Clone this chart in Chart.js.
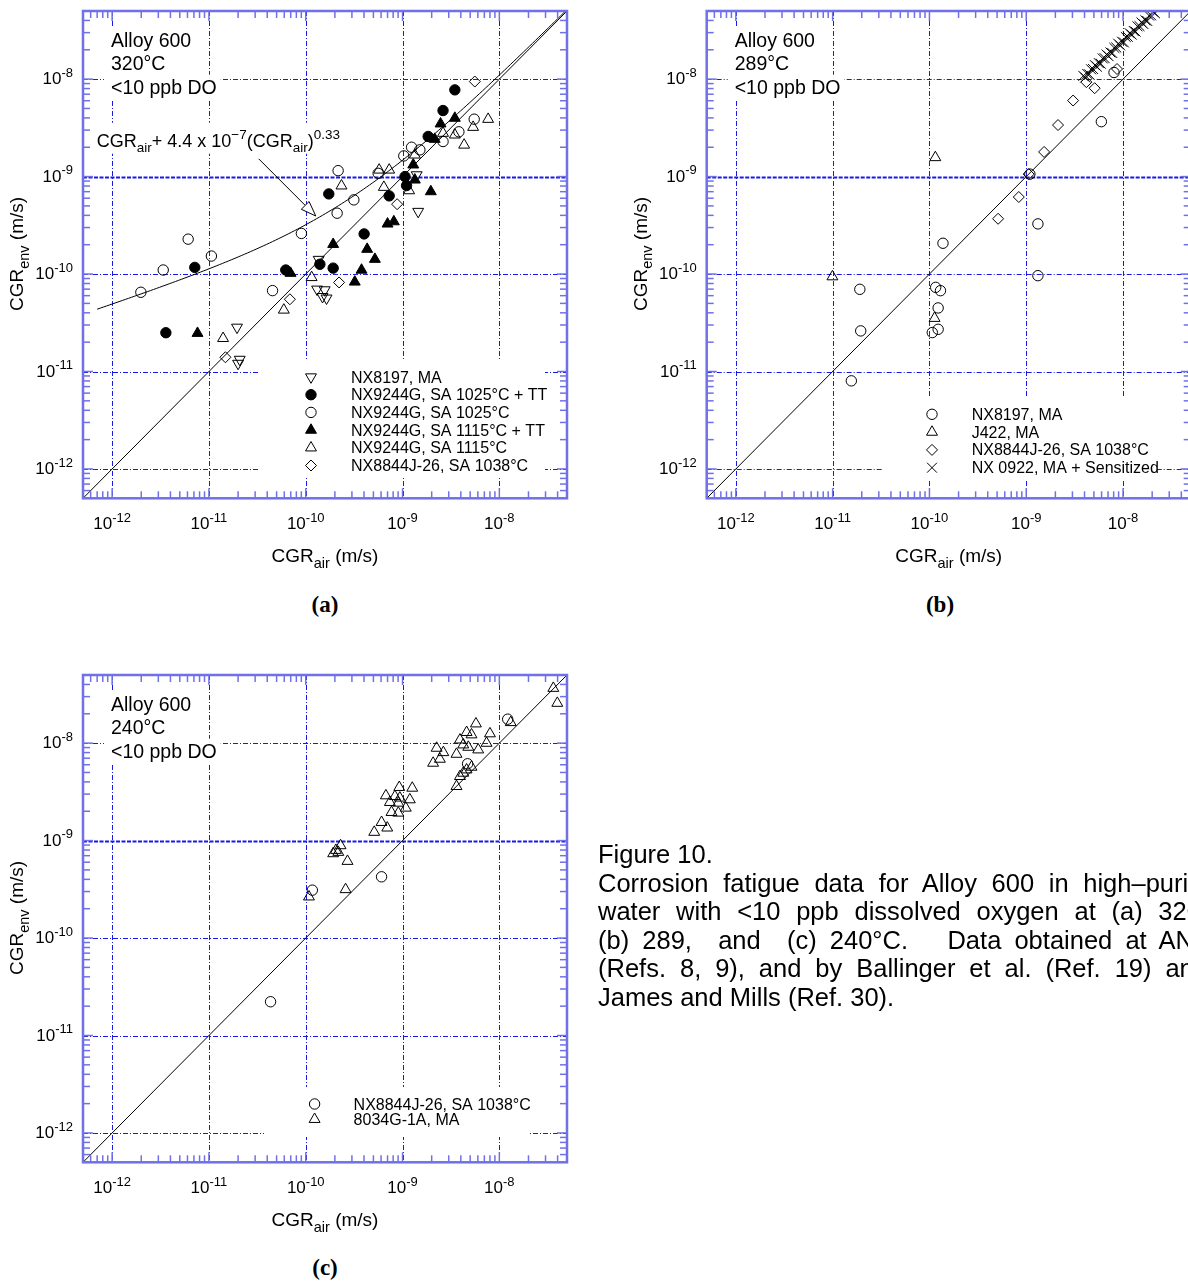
<!DOCTYPE html>
<html>
<head>
<meta charset="utf-8">
<title>Figure 10 - Alloy 600 corrosion fatigue</title>
<script src="https://cdn.jsdelivr.net/npm/chart.js@4.4.0/dist/chart.umd.min.js"></script>
<style>
  html, body { margin: 0; padding: 0; width: 1188px; height: 1281px; overflow: hidden; background: #fff; }
  canvas { position: absolute; }
  #panelA { left: 0; top: 0; }
  #panelB { left: 620px; top: 0; }
  #panelC { left: 0; top: 664px; }
  .tag { position: absolute; transform: translate(-50%, -50%); font: bold 23px "Liberation Serif", "Times New Roman", serif; color: #000; }
  .caption { position: absolute; left: 598px; top: 840px; font: 25.5px "Liberation Sans", Arial, sans-serif; line-height: 28.6px; color: #000; }
  .caption div { width: 610px; white-space: nowrap; text-align: justify; text-align-last: justify; }
  .caption div.plain { text-align: left; text-align-last: left; }
</style>
</head>
<body>
<canvas id="panelA" width="600" height="580"></canvas>
<canvas id="panelB" width="600" height="580"></canvas>
<canvas id="panelC" width="600" height="580"></canvas>

<div class="tag" style="left:325px; top:605px;">(a)</div>
<div class="tag" style="left:940px; top:605px;">(b)</div>
<div class="tag" style="left:325px; top:1268px;">(c)</div>

<div class="caption">
  <div class="plain">Figure 10.</div>
  <div>Corrosion fatigue data for Alloy 600 in high–purity</div>
  <div>water with &lt;10 ppb dissolved oxygen at (a) 320,</div>
  <div>(b) 289,&nbsp; and&nbsp; (c) 240°C.&nbsp;&nbsp; Data obtained at ANL</div>
  <div>(Refs. 8, 9), and by Ballinger et al. (Ref. 19) and</div>
  <div class="plain">James and Mills (Ref. 30).</div>
</div>

<script>
// ------------------------------------------------------------
// Axes: both log scales, same range on every panel
// ------------------------------------------------------------
const AXIS_MIN = 5e-13;
const AXIS_MAX = 5e-8;
const DECADES = [1e-12, 1e-11, 1e-10, 1e-9, 1e-8];
const DECADE_EXPONENTS = ['-12', '-11', '-10', '-9', '-8'];
const MINOR_STEPS = [2, 3, 4, 5, 6, 7, 8, 9];

// y = x reference line
const diagonal = [[AXIS_MIN, AXIS_MIN], [AXIS_MAX, AXIS_MAX]];

// ------------------------------------------------------------
// (a) 320°C  -- [CGR_air, CGR_env] in m/s
// ------------------------------------------------------------
const a320_nx8197 = [
  [1.40e-9, 1.04e-9], [1.45e-9, 4.38e-10], [1.36e-10, 1.41e-10], [1.31e-10, 6.98e-11],
  [1.57e-10, 6.87e-11], [1.64e-10, 5.65e-11], [1.49e-10, 5.86e-11], [1.95e-11, 2.84e-11],
  [2.08e-11, 1.33e-11], [2.00e-11, 1.21e-11]
];
const a320_nx9244_1025tt = [
  [3.47e-9, 7.76e-9], [2.62e-9, 4.76e-9], [1.84e-9, 2.58e-9], [1.06e-9, 1.00e-9],
  [1.10e-9, 8.09e-10], [7.28e-10, 6.34e-10], [1.73e-10, 6.64e-10], [4.01e-10, 2.58e-10],
  [1.40e-10, 1.26e-10], [1.92e-10, 1.15e-10], [6.22e-11, 1.10e-10], [3.59e-12, 2.50e-11],
  [7.14e-12, 1.17e-10]
];
const a320_nx9244_1025 = [
  [5.50e-9, 3.88e-9], [3.82e-9, 2.88e-9], [2.62e-9, 2.29e-9], [1.24e-9, 2.00e-9],
  [1.03e-9, 1.63e-9], [1.51e-9, 1.88e-9], [5.60e-10, 1.08e-9], [2.16e-10, 1.15e-9],
  [3.14e-10, 5.77e-10], [2.11e-10, 4.21e-10], [9.02e-11, 2.61e-10], [4.54e-11, 6.76e-11],
  [6.10e-12, 2.28e-10], [1.06e-11, 1.53e-10], [3.37e-12, 1.10e-10], [1.98e-12, 6.50e-11]
];
const a320_nx9244_1115tt = [
  [2.47e-9, 3.48e-9], [3.47e-9, 3.98e-9], [2.15e-9, 2.42e-9], [1.29e-9, 1.32e-9],
  [1.34e-9, 9.25e-10], [1.96e-9, 7.02e-10], [7.00e-10, 3.27e-10], [8.13e-10, 3.45e-10],
  [1.92e-10, 2.02e-10], [4.31e-10, 1.80e-10], [5.18e-10, 1.42e-10], [3.77e-10, 1.10e-10],
  [3.21e-10, 8.30e-11], [6.97e-11, 1.02e-10], [7.62e-12, 2.47e-11]
];
const a320_nx9244_1115 = [
  [7.66e-9, 3.88e-9], [5.36e-9, 3.21e-9], [4.33e-9, 2.11e-9], [3.47e-9, 2.68e-9],
  [2.62e-9, 2.79e-9], [1.34e-9, 1.67e-9], [1.17e-9, 7.18e-10], [5.73e-10, 1.17e-9],
  [7.28e-10, 1.17e-9], [6.41e-10, 7.78e-10], [2.34e-10, 8.04e-10], [1.15e-10, 9.23e-11],
  [5.94e-11, 4.28e-11], [1.40e-11, 2.19e-11]
];
const a320_nx8844 = [
  [5.58e-9, 9.44e-9], [8.79e-10, 5.21e-10], [2.21e-10, 8.20e-11], [6.86e-11, 5.51e-11],
  [1.48e-11, 1.40e-11]
];
const legend320 = [
  'NX8197, MA', 'NX9244G, SA 1025°C + TT', 'NX9244G, SA 1025°C',
  'NX9244G, SA 1115°C + TT', 'NX9244G, SA 1115°C', 'NX8844J-26, SA 1038°C'
];
const info320 = ['Alloy 600', '320°C', '<10 ppb DO'];

// CGR_env = CGR_air + 4.4e-7 (CGR_air)^0.33, drawn from this air rate upward
const CURVE_COEF = 4.4e-7;
const CURVE_EXP = 0.33;
const CURVE_FROM = 7e-13;
// pointer from the equation text to the curve
const arrow320 = { from: [3.27e-11, 1.52e-9], to: [1.27e-10, 3.94e-10] };

// ------------------------------------------------------------
// (b) 289°C
// ------------------------------------------------------------
const b289_nx8197 = [
  [1.38e-10, 2.07e-10], [1.09e-9, 1.06e-9], [1.32e-9, 3.27e-10], [5.97e-9, 3.66e-9],
  [8.07e-9, 1.17e-8], [1.32e-9, 9.62e-11], [1.91e-11, 6.97e-11], [1.95e-11, 2.61e-11],
  [1.56e-11, 8.02e-12], [1.16e-10, 7.30e-11], [1.30e-10, 6.75e-11], [1.23e-10, 4.49e-11],
  [1.23e-10, 2.71e-11], [1.07e-10, 2.51e-11]
];
const b289_j422 = [[1.15e-10, 1.57e-9], [9.95e-12, 9.40e-11], [1.13e-10, 3.52e-11]];
const b289_nx8844 = [
  [5.12e-10, 3.69e-10], [8.38e-10, 6.17e-10], [1.06e-9, 1.06e-9], [1.53e-9, 1.79e-9],
  [2.13e-9, 3.38e-9], [3.05e-9, 6.03e-9], [5.09e-9, 8.07e-9], [4.18e-9, 9.31e-9],
  [8.67e-9, 1.27e-8]
];
const b289_nx0922 = [
  [3.89e-9, 1.08e-8], [4.07e-9, 1.04e-8], [4.27e-9, 1.13e-8], [4.47e-9, 1.12e-8],
  [4.68e-9, 1.26e-8], [4.90e-9, 1.27e-8], [5.13e-9, 1.39e-8], [5.37e-9, 1.34e-8],
  [5.62e-9, 1.46e-8], [5.89e-9, 1.44e-8], [6.17e-9, 1.63e-8], [6.46e-9, 1.64e-8],
  [6.76e-9, 1.79e-8], [7.08e-9, 1.72e-8], [7.41e-9, 1.88e-8], [7.76e-9, 1.85e-8],
  [8.13e-9, 2.09e-8], [8.51e-9, 2.11e-8], [8.91e-9, 2.31e-8], [9.33e-9, 2.22e-8],
  [9.77e-9, 2.42e-8], [1.02e-8, 2.38e-8], [1.07e-8, 2.70e-8], [1.12e-8, 2.72e-8],
  [1.17e-8, 2.96e-8], [1.23e-8, 2.86e-8], [1.29e-8, 3.12e-8], [1.35e-8, 3.07e-8],
  [1.41e-8, 3.48e-8], [1.48e-8, 3.50e-8], [1.55e-8, 3.82e-8], [1.62e-8, 3.68e-8],
  [1.70e-8, 4.02e-8], [1.78e-8, 3.95e-8], [1.86e-8, 4.48e-8], [1.95e-8, 4.51e-8],
  [2.04e-8, 4.92e-8], [2.14e-8, 4.74e-8]
];
const legend289 = ['NX8197, MA', 'J422, MA', 'NX8844J-26, SA 1038°C', 'NX 0922, MA + Sensitized'];
const info289 = ['Alloy 600', '289°C', '<10 ppb DO'];

// ------------------------------------------------------------
// (c) 240°C
// ------------------------------------------------------------
const c240_nx8844 = [
  [1.22e-8, 1.76e-8], [4.70e-9, 6.14e-9], [6.07e-10, 4.25e-10], [1.17e-10, 3.10e-10],
  [4.33e-11, 2.22e-11]
];
const c240_8034g = [
  [3.61e-8, 3.66e-8], [3.97e-8, 2.57e-8], [1.31e-8, 1.63e-8], [5.73e-9, 1.58e-8],
  [4.59e-9, 1.29e-8], [5.16e-9, 1.22e-8], [3.92e-9, 1.08e-8], [8.00e-9, 1.25e-8],
  [7.38e-9, 1.00e-8], [4.24e-9, 9.62e-9], [4.78e-9, 9.10e-9], [6.05e-9, 8.55e-9],
  [3.61e-9, 7.71e-9], [2.25e-9, 8.89e-9], [2.64e-9, 8.02e-9], [2.43e-9, 6.86e-9],
  [2.07e-9, 6.24e-9], [5.16e-9, 5.68e-9], [4.59e-9, 5.33e-9], [4.24e-9, 4.93e-9],
  [3.92e-9, 4.56e-9], [3.61e-9, 3.60e-9], [1.26e-9, 3.46e-9], [9.25e-10, 3.52e-9],
  [6.73e-10, 2.89e-9], [8.34e-10, 2.84e-9], [9.38e-10, 2.74e-9], [1.19e-9, 2.63e-9],
  [7.40e-10, 2.47e-9], [9.04e-10, 2.43e-9], [1.08e-9, 2.16e-9], [7.69e-10, 1.95e-9],
  [9.04e-10, 1.92e-9], [6.07e-10, 1.54e-9], [6.95e-10, 1.35e-9], [5.10e-10, 1.22e-9],
  [2.29e-10, 8.89e-10], [2.05e-10, 7.96e-10], [1.92e-10, 7.36e-10], [2.17e-10, 7.60e-10],
  [2.70e-10, 6.14e-10], [2.58e-10, 3.15e-10], [1.08e-10, 2.65e-10]
];
const legend240 = ['NX8844J-26, SA 1038°C', '8034G-1A, MA'];
const info240 = ['Alloy 600', '240°C', '<10 ppb DO'];

// ------------------------------------------------------------
// Styling
// ------------------------------------------------------------
const FONT = '"Liberation Sans", Arial, Helvetica, sans-serif';
const AXIS_COLOR = 'rgb(112, 112, 232)';
const GRID_COLOR = 'rgb(24, 24, 232)';
const MINOR_LEN = 7;
const MAJOR_LEN = 10;

const MARKS = {
  downOpen:   { style: 'triangle', rotation: 180, radius: 6.3, fill: false },
  dotFilled:  { style: 'circle', radius: 5.2, fill: true },
  dotOpen:    { style: 'circle', radius: 5.2, fill: false },
  triFilled:  { style: 'triangle', radius: 6.3, fill: true },
  triOpen:    { style: 'triangle', radius: 6.3, fill: false },
  diamond:    { style: 'rectRot', radius: 5.5, fill: false },
  cross:      { style: 'crossRot', radius: 7, fill: false },
};

// minor tick values (2..9 x each decade) that fall inside the axis range
const MINOR_TICKS = [];
[1e-13, ...DECADES].forEach(d => {
  MINOR_STEPS.forEach(k => {
    const v = k * d;
    if (v > AXIS_MIN && v < AXIS_MAX) MINOR_TICKS.push(v);
  });
});

function curvePoints() {
  const pts = [];
  const lo = Math.log10(CURVE_FROM), hi = Math.log10(AXIS_MAX);
  for (let i = 0; i <= 150; i++) {
    const air = Math.pow(10, lo + (hi - lo) * i / 150);
    pts.push([air, air + CURVE_COEF * Math.pow(air, CURVE_EXP)]);
  }
  return pts;
}

// ------------------------------------------------------------
// Text with sub/superscripts: parts = [[text, 'sub'|'sup'|undefined], ...]
// ------------------------------------------------------------
function richWidth(ctx, parts, size, small) {
  let w = 0;
  parts.forEach(([t, s]) => {
    ctx.font = `${s ? small : size}px ${FONT}`;
    w += ctx.measureText(t).width;
  });
  return w;
}

function drawRich(ctx, parts, x, y, size, small, align) {
  const w = richWidth(ctx, parts, size, small);
  let cx = align === 'center' ? x - w / 2 : align === 'right' ? x - w : x;
  ctx.textAlign = 'left';
  ctx.textBaseline = 'alphabetic';
  parts.forEach(([t, s]) => {
    ctx.font = `${s ? small : size}px ${FONT}`;
    const dy = s === 'sup' ? -size * 0.42 : s === 'sub' ? size * 0.3 : 0;
    ctx.fillText(t, cx, y + dy);
    cx += ctx.measureText(t).width;
  });
  return w;
}

function strokeLine(ctx, x0, y0, x1, y1) {
  ctx.beginPath();
  ctx.moveTo(x0, y0);
  ctx.lineTo(x1, y1);
  ctx.stroke();
}

const TICK_SIZE = 17, TICK_SMALL = 13;
const TITLE_SIZE = 19, TITLE_SMALL = 14.5;
const INFO_SIZE = 19.5, INFO_LEFT = 28, INFO_TOP = 35.7, INFO_STEP = 23.5;
const LEGEND_SIZE = 16;
const NOTE_SIZE = 18, NOTE_SMALL = 13.5;
const NOTE_PARTS = [['CGR'], ['air', 'sub'], ['+ 4.4 x 10'], ['−7', 'sup'], ['(CGR'], ['air', 'sub'], [')'], ['0.33', 'sup']];

// ------------------------------------------------------------
// Frame plugin: grid, white patches, axes, ticks, labels, legend
// ------------------------------------------------------------
const panelFrame = {
  id: 'panelFrame',

  beforeDatasetsDraw(chart, _args, o) {
    const { ctx, chartArea: ca } = chart;
    const sx = chart.scales.x, sy = chart.scales.y;
    ctx.save();
    ctx.strokeStyle = GRID_COLOR;
    DECADES.forEach(v => {
      const px = Math.round(sx.getPixelForValue(v)) + 0.5;
      ctx.lineWidth = 1;
      ctx.setLineDash([5, 2, 1, 2]);
      strokeLine(ctx, px, ca.top, px, ca.bottom);
      const py = Math.round(sy.getPixelForValue(v)) + 0.5;
      if (v === 1e-9) { ctx.lineWidth = 2; ctx.setLineDash([4, 1.5]); }
      strokeLine(ctx, ca.left, py, ca.right, py);
    });
    ctx.setLineDash([]);

    // legend and text sit on opaque white
    ctx.fillStyle = '#fff';
    const b = o.legendBox;
    ctx.fillRect(ca.left + b[0], ca.top + b[1], b[2] - b[0], b[3] - b[1]);
    ctx.font = `${INFO_SIZE}px ${FONT}`;
    o.info.forEach((t, i) => {
      const w = ctx.measureText(t).width;
      const base = ca.top + INFO_TOP + i * INFO_STEP;
      ctx.fillRect(ca.left + INFO_LEFT - 7, base - 19, w + 11, 25);
    });
    if (o.note) {
      const w = richWidth(ctx, NOTE_PARTS, NOTE_SIZE, NOTE_SMALL);
      ctx.fillRect(ca.left + o.note.x - 2, ca.top + o.note.y - 24, w + 5, 31);
    }
    ctx.restore();
  },

  afterDatasetsDraw(chart, _args, o) {
    const { ctx, chartArea: ca } = chart;
    const sx = chart.scales.x, sy = chart.scales.y;
    ctx.save();

    // inward ticks on all four sides
    ctx.strokeStyle = AXIS_COLOR;
    ctx.lineWidth = 1.5;
    const ticks = MINOR_TICKS.map(v => [v, MINOR_LEN]).concat(DECADES.map(v => [v, MAJOR_LEN]));
    ticks.forEach(([v, len]) => {
      const px = sx.getPixelForValue(v);
      strokeLine(ctx, px, ca.bottom, px, ca.bottom - len);
      strokeLine(ctx, px, ca.top, px, ca.top + len);
      const py = sy.getPixelForValue(v);
      strokeLine(ctx, ca.left, py, ca.left + len, py);
      strokeLine(ctx, ca.right, py, ca.right - len, py);
    });
    ctx.lineWidth = 2.5;
    ctx.strokeRect(ca.left, ca.top, ca.right - ca.left, ca.bottom - ca.top);

    // decade labels
    ctx.fillStyle = '#000';
    DECADES.forEach((v, i) => {
      const parts = [['10'], [DECADE_EXPONENTS[i], 'sup']];
      drawRich(ctx, parts, sx.getPixelForValue(v), ca.bottom + 31, TICK_SIZE, TICK_SMALL, 'center');
      drawRich(ctx, parts, ca.left - 10, sy.getPixelForValue(v) + 5, TICK_SIZE, TICK_SMALL, 'right');
    });

    // axis titles
    drawRich(ctx, [['CGR'], ['air', 'sub'], [' (m/s)']],
      (ca.left + ca.right) / 2, ca.bottom + 64, TITLE_SIZE, TITLE_SMALL, 'center');
    ctx.save();
    ctx.translate(ca.left - 60, ca.top + 243);
    ctx.rotate(-Math.PI / 2);
    drawRich(ctx, [['CGR'], ['env', 'sub'], [' (m/s)']], 0, 0, TITLE_SIZE, TITLE_SMALL, 'center');
    ctx.restore();

    // alloy / temperature / oxygen block
    ctx.font = `${INFO_SIZE}px ${FONT}`;
    ctx.textAlign = 'left';
    o.info.forEach((t, i) => ctx.fillText(t, ca.left + INFO_LEFT, ca.top + INFO_TOP + i * INFO_STEP));

    // legend
    const L = o.legendAt;
    o.legendLabels.forEach((label, i) => {
      const m = o.marks[i];
      const cy = ca.top + L.first + i * L.step;
      ctx.fillStyle = m.fill ? '#000' : 'rgba(0,0,0,0)';
      ctx.strokeStyle = '#000';
      ctx.lineWidth = 1;
      Chart.helpers.drawPoint(ctx, { pointStyle: m.style, rotation: m.rotation || 0, radius: m.radius, borderWidth: 1 },
        ca.left + L.marker, cy);
      ctx.fillStyle = '#000';
      ctx.font = `${LEGEND_SIZE}px ${FONT}`;
      ctx.textAlign = 'left';
      ctx.fillText(label, ca.left + L.text, cy + 5.5);
    });

    // equation label with its pointer
    if (o.note) {
      ctx.fillStyle = '#000';
      drawRich(ctx, NOTE_PARTS, ca.left + o.note.x, ca.top + o.note.y, NOTE_SIZE, NOTE_SMALL, 'left');
      const a = o.note.arrow;
      const x0 = sx.getPixelForValue(a.from[0]), y0 = sy.getPixelForValue(a.from[1]);
      const x1 = sx.getPixelForValue(a.to[0]), y1 = sy.getPixelForValue(a.to[1]);
      const ang = Math.atan2(y1 - y0, x1 - x0);
      const len = 15, half = 5.5;
      const bx = x1 - Math.cos(ang) * len, by = y1 - Math.sin(ang) * len;
      ctx.strokeStyle = '#000';
      ctx.lineWidth = 1;
      strokeLine(ctx, x0, y0, bx, by);
      ctx.beginPath();
      ctx.moveTo(x1, y1);
      ctx.lineTo(bx + Math.sin(ang) * half, by - Math.cos(ang) * half);
      ctx.lineTo(bx - Math.sin(ang) * half, by + Math.cos(ang) * half);
      ctx.closePath();
      ctx.fillStyle = '#fff';
      ctx.fill();
      ctx.stroke();
    }
    ctx.restore();
  }
};

// ------------------------------------------------------------
// Dataset builders
// ------------------------------------------------------------
function scatterSet(points, m) {
  return {
    type: 'scatter',
    data: points.map(([x, y]) => ({ x, y })),
    pointStyle: m.style,
    pointRotation: m.rotation || 0,
    pointRadius: m.radius,
    pointBorderWidth: 1,
    pointBorderColor: '#000',
    pointBackgroundColor: m.fill ? '#000' : 'rgba(0,0,0,0)',
    showLine: false,
  };
}

function lineSet(points) {
  return {
    type: 'line',
    data: points.map(([x, y]) => ({ x, y })),
    borderColor: '#000',
    borderWidth: 1,
    pointRadius: 0,
    fill: false,
    tension: 0,
  };
}

function makePanel(canvasId, p) {
  const datasets = p.series.map(([pts, m]) => scatterSet(pts, m)).concat(p.lines.map(lineSet));
  const logAxis = { type: 'logarithmic', min: AXIS_MIN, max: AXIS_MAX, display: false };
  return new Chart(document.getElementById(canvasId), {
    type: 'scatter',
    data: { datasets },
    options: {
      responsive: false,
      animation: false,
      events: [],
      layout: { padding: p.padding },
      scales: { x: { ...logAxis }, y: { ...logAxis } },
      plugins: {
        legend: { display: false },
        tooltip: { enabled: false },
        panelFrame: {
          info: p.info,
          legendLabels: p.legendLabels,
          marks: p.series.map(s => s[1]),
          legendBox: p.legendBox,
          legendAt: p.legendAt,
          note: p.note || null,
        }
      }
    },
    plugins: [panelFrame]
  });
}

// ------------------------------------------------------------
// Panels
// ------------------------------------------------------------
makePanel('panelA', {
  padding: { left: 83, top: 11, right: 33, bottom: 81.7 },
  series: [
    [a320_nx8197, MARKS.downOpen],
    [a320_nx9244_1025tt, MARKS.dotFilled],
    [a320_nx9244_1025, MARKS.dotOpen],
    [a320_nx9244_1115tt, MARKS.triFilled],
    [a320_nx9244_1115, MARKS.triOpen],
    [a320_nx8844, MARKS.diamond],
  ],
  lines: [diagonal, curvePoints()],
  info: info320,
  legendLabels: legend320,
  legendBox: [177, 349, 462, 467],
  legendAt: { marker: 228, text: 268, first: 366, step: 17.7 },
  note: { x: 13.7, y: 135.7, arrow: arrow320 },
});

makePanel('panelB', {
  padding: { left: 86.7, top: 11, right: 29.3, bottom: 81.7 },
  series: [
    [b289_nx8197, MARKS.dotOpen],
    [b289_j422, MARKS.triOpen],
    [b289_nx8844, MARKS.diamond],
    [b289_nx0922, MARKS.cross],
  ],
  lines: [diagonal],
  info: info289,
  legendLabels: legend289,
  legendBox: [176, 385, 450, 469],
  legendAt: { marker: 225.3, text: 265, first: 403.3, step: 17.8 },
});

makePanel('panelC', {
  padding: { left: 83, top: 11, right: 33, bottom: 81.7 },
  series: [
    [c240_nx8844, MARKS.dotOpen],
    [c240_8034g, MARKS.triOpen],
  ],
  lines: [diagonal],
  info: info240,
  legendLabels: legend240,
  legendBox: [181, 412, 445, 462],
  legendAt: { marker: 231.6, text: 270.6, first: 429, step: 15.3 },
});
</script>
</body>
</html>
